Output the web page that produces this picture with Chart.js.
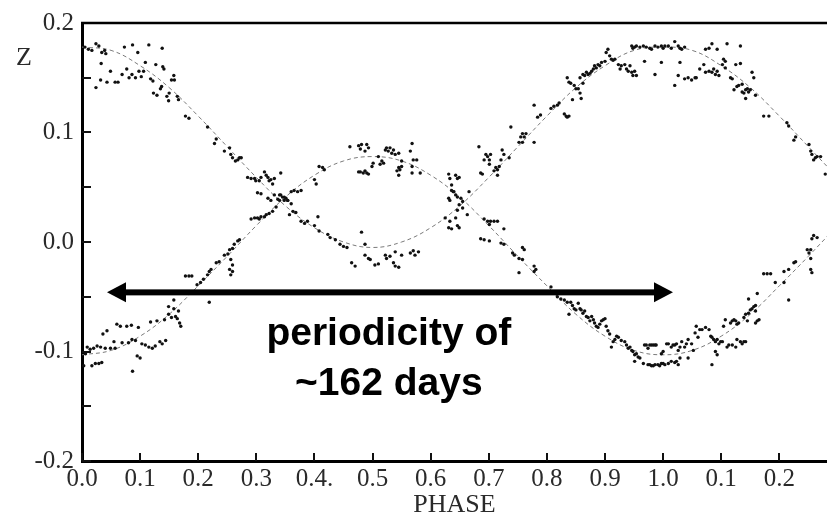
<!DOCTYPE html>
<html>
<head>
<meta charset="utf-8">
<script src="https://cdn.jsdelivr.net/npm/chart.js@4.4.1/dist/chart.umd.min.js"></script>
<style>
  html, body { margin: 0; padding: 0; background: #fff; }
  #wrap { width: 827px; height: 518px; }
</style>
</head>
<body>
<div id="wrap"><canvas id="phaseChart" width="827" height="518"></canvas></div>
<script>
// tick labels as printed on the figure (phase wraps after 1.0)
const xTickLabels = ['0.0', '0.1', '0.2', '0.3', '0.4.', '0.5', '0.6', '0.7', '0.8', '0.9', '1.0', '0.1', '0.2'];
const yTickLabels = ['-0.2', '', '-0.1', '', '0.0', '', '0.1', '', '0.2'];

// fitted curves, read every 0.05 in phase
const fitPhase = [0, 0.05, 0.10, 0.15, 0.20, 0.25, 0.30, 0.35, 0.40, 0.45, 0.50, 0.55, 0.60, 0.65, 0.70,
  0.75, 0.80, 0.85, 0.90, 0.95, 1.00, 1.05, 1.10, 1.15, 1.20, 1.25, 1.30];
const fitA = [0.178, 0.175, 0.161, 0.141, 0.115, 0.087, 0.059, 0.033, 0.013, 0.000, -0.005, 0.000, 0.013, 0.033, 0.059,
  0.087, 0.115, 0.141, 0.161, 0.175, 0.178, 0.175, 0.161, 0.141, 0.115, 0.087, 0.059];
const fitB = [-0.103, -0.099, -0.086, -0.066, -0.040, -0.013, 0.015, 0.041, 0.061, 0.074, 0.078, 0.074, 0.061, 0.041, 0.015,
  -0.013, -0.040, -0.066, -0.086, -0.099, -0.103, -0.099, -0.086, -0.066, -0.040, -0.013, 0.015];

// observed points [phase, Z], upper band
const dotsUpper = [
  [0.005,0.178],[0.011,0.176],[0.017,0.175],[0.024,0.181],[0.029,0.179],[0.034,0.173],[0.039,0.175],[0.041,0.172],
  [0.033,0.163],[0.024,0.141],[0.032,0.148],[0.043,0.146],[0.049,0.156],[0.057,0.146],[0.062,0.146],[0.069,0.153],
  [0.073,0.178],[0.077,0.158],[0.081,0.150],[0.086,0.153],[0.087,0.180],[0.092,0.150],[0.096,0.173],[0.098,0.156],
  [0.102,0.151],[0.106,0.156],[0.109,0.164],[0.115,0.180],[0.118,0.149],[0.122,0.147],[0.123,0.136],[0.127,0.162],
  [0.129,0.134],[0.135,0.140],[0.137,0.142],[0.138,0.177],[0.139,0.160],[0.141,0.158],[0.146,0.133],[0.149,0.129],
  [0.150,0.136],[0.154,0.148],[0.158,0.152],[0.159,0.148],[0.164,0.133],[0.166,0.130],[0.178,0.115],[0.184,0.113],
  [0.216,0.105],[0.231,0.094],[0.228,0.090],[0.245,0.083],[0.254,0.086],[0.256,0.080],[0.259,0.077],[0.264,0.074],
  [0.268,0.075],[0.271,0.077],[0.274,0.077],[0.285,0.059],[0.291,0.058],[0.297,0.058],[0.299,0.056],[0.305,0.056],
  [0.308,0.059],[0.314,0.064],[0.317,0.061],[0.320,0.059],[0.322,0.056],[0.325,0.057],[0.331,0.058],[0.328,0.053],
  [0.342,0.063],[0.302,0.045],[0.308,0.044],[0.320,0.040],[0.325,0.038],[0.331,0.043],[0.337,0.039],[0.340,0.043],
  [0.342,0.043],[0.345,0.041],[0.348,0.038],[0.351,0.040],[0.354,0.038],[0.360,0.035],[0.363,0.028],[0.357,0.025],
  [0.368,0.027],[0.377,0.019],[0.383,0.017],[0.388,0.019],[0.400,0.015],[0.408,0.010],[0.423,0.007],
  [0.461,0.087],[0.476,0.088],[0.479,0.085],[0.481,0.089],[0.490,0.089],[0.493,0.086],[0.487,0.083],[0.476,0.064],
  [0.479,0.064],[0.484,0.063],[0.487,0.065],[0.490,0.063],[0.493,0.062],[0.499,0.069],[0.501,0.072],[0.510,0.078],
  [0.513,0.071],[0.516,0.074],[0.519,0.072],[0.522,0.084],[0.524,0.086],[0.527,0.083],[0.530,0.086],[0.533,0.081],
  [0.536,0.084],[0.539,0.080],[0.545,0.081],[0.545,0.068],[0.547,0.066],[0.550,0.069],[0.542,0.065],[0.545,0.061],
  [0.550,0.074],[0.565,0.083],[0.568,0.090],[0.570,0.075],[0.576,0.075],[0.568,0.069],[0.568,0.063],[0.582,0.063],
  [0.631,0.062],[0.633,0.058],[0.636,0.052],[0.631,0.040],[0.633,0.038],[0.636,0.047],[0.639,0.046],
  [0.643,0.061],[0.646,0.058],[0.649,0.059],[0.640,0.046],[0.643,0.043],[0.646,0.041],[0.652,0.040],[0.655,0.037],
  [0.649,0.034],[0.646,0.029],[0.655,0.031],[0.663,0.025],[0.643,0.022],[0.646,0.015],[0.649,0.013],[0.666,0.046],
  [0.686,0.063],[0.689,0.062],[0.683,0.087],[0.692,0.075],[0.695,0.080],[0.698,0.078],[0.701,0.075],[0.703,0.080],
  [0.701,0.071],[0.709,0.065],[0.712,0.068],[0.715,0.066],[0.715,0.061],[0.718,0.069],[0.721,0.075],[0.723,0.084],
  [0.726,0.080],[0.735,0.077],[0.738,0.105],[0.752,0.091],[0.755,0.096],[0.758,0.099],[0.758,0.091],[0.761,0.096],
  [0.764,0.099],[0.778,0.091],[0.778,0.125],[0.784,0.114],[0.789,0.116],[0.807,0.122],[0.812,0.124],[0.818,0.125],
  [0.821,0.127],[0.830,0.117],[0.833,0.115],[0.835,0.114],[0.838,0.115],[0.844,0.130],[0.835,0.150],[0.838,0.146],
  [0.841,0.145],[0.847,0.143],[0.850,0.140],
  [0.857,0.150],[0.862,0.153],[0.865,0.152],[0.868,0.155],[0.871,0.153],[0.874,0.154],[0.877,0.156],[0.880,0.158],
  [0.882,0.161],[0.885,0.159],[0.888,0.162],[0.891,0.161],[0.894,0.164],[0.900,0.165],[0.902,0.173],[0.905,0.176],
  [0.908,0.170],[0.911,0.167],[0.914,0.166],[0.917,0.167],[0.923,0.162],[0.926,0.158],[0.928,0.161],[0.934,0.162],
  [0.937,0.158],[0.940,0.156],[0.943,0.161],[0.946,0.155],[0.948,0.152],[0.951,0.156],[0.954,0.152],[0.946,0.179],
  [0.948,0.177],[0.951,0.178],[0.954,0.179],[0.960,0.178],[0.966,0.179],[0.971,0.178],[0.977,0.177],[0.980,0.176],
  [0.986,0.179],[0.991,0.178],[0.997,0.179],[1.000,0.177],[1.003,0.179],[1.009,0.179],[1.014,0.177],[1.020,0.183],
  [1.026,0.179],[1.029,0.177],[1.032,0.176],[1.037,0.178],[0.968,0.165],[0.986,0.153],[0.997,0.164],[1.020,0.143],
  [1.026,0.152],[1.029,0.164],[1.037,0.149],[1.043,0.150],[1.049,0.148],[1.055,0.150],[1.057,0.150],[1.063,0.158],
  [0.857,0.136],[0.859,0.131],[0.854,0.140],[0.862,0.145],
  [1.073,0.176],[1.079,0.177],[1.084,0.181],[1.093,0.176],[1.110,0.181],[1.133,0.179],[1.070,0.162],[1.073,0.155],
  [1.079,0.156],[1.084,0.155],[1.087,0.158],[1.090,0.153],[1.093,0.156],[1.096,0.152],[1.102,0.162],[1.104,0.167],
  [1.107,0.165],[1.107,0.159],[1.116,0.150],[1.119,0.149],[1.125,0.162],[1.127,0.142],[1.130,0.143],[1.133,0.163],
  [1.136,0.144],[1.139,0.136],[1.142,0.131],[1.142,0.139],[1.145,0.140],[1.147,0.137],[1.150,0.139],[1.153,0.155],
  [1.156,0.150],[1.159,0.134],[1.173,0.115],[1.182,0.115],[1.213,0.109],[1.216,0.106],[1.228,0.096],[1.225,0.093],
  [1.251,0.089],[1.254,0.083],[1.256,0.080],[1.259,0.075],[1.262,0.077],[1.265,0.078],[1.271,0.078],[1.279,0.062],
  [1.136,0.137],[1.122,0.139]
];

// observed points [phase, Z], lower band
const dotsLower = [
  [0.003,-0.113],[0.006,-0.102],[0.009,-0.096],[0.014,-0.098],[0.017,-0.113],[0.020,-0.097],[0.023,-0.111],[0.026,-0.095],
  [0.029,-0.111],[0.032,-0.096],[0.034,-0.110],[0.036,-0.084],[0.040,-0.097],[0.043,-0.081],[0.049,-0.097],[0.055,-0.091],
  [0.057,-0.097],[0.060,-0.075],[0.066,-0.077],[0.069,-0.092],[0.077,-0.077],[0.080,-0.092],[0.085,-0.076],[0.086,-0.089],
  [0.092,-0.090],[0.095,-0.104],[0.097,-0.078],[0.100,-0.106],[0.103,-0.093],[0.109,-0.094],[0.115,-0.096],[0.118,-0.073],
  [0.121,-0.097],[0.126,-0.095],[0.129,-0.072],[0.134,-0.091],[0.138,-0.093],[0.142,-0.071],[0.144,-0.090],[0.154,-0.069],
  [0.149,-0.059],[0.158,-0.053],[0.161,-0.068],[0.164,-0.070],[0.166,-0.063],[0.168,-0.074],[0.170,-0.077],[0.158,-0.061],
  [0.149,-0.066],[0.178,-0.031],[0.184,-0.031],[0.189,-0.031],[0.198,-0.039],[0.204,-0.037],[0.209,-0.034],[0.087,-0.118],
  [0.219,-0.055],
  [0.216,-0.030],[0.219,-0.027],[0.222,-0.025],[0.231,-0.019],[0.236,-0.018],[0.245,-0.012],[0.251,-0.011],[0.254,-0.007],
  [0.259,-0.006],[0.262,-0.002],[0.268,0.001],[0.271,0.002],[0.256,-0.016],[0.259,-0.021],[0.259,-0.027],[0.256,-0.030],
  [0.254,-0.025],[0.291,0.021],[0.297,0.022],[0.302,0.022],[0.305,0.021],[0.308,0.023],[0.314,0.023],[0.317,0.025],
  [0.322,0.026],[0.328,0.028],[0.334,0.032],[0.340,0.038],[0.348,0.041],[0.354,0.038],[0.360,0.046],[0.365,0.047],
  [0.371,0.046],[0.377,0.047],[0.400,0.057],[0.403,0.053],[0.408,0.069],[0.414,0.068],[0.417,0.066],[0.406,0.023],
  [0.427,0.004],[0.436,0.002],[0.444,-0.002],[0.450,-0.004],[0.456,-0.005],[0.481,0.009],[0.487,-0.002],[0.464,-0.019],
  [0.470,-0.022],[0.487,-0.012],[0.493,-0.015],[0.496,-0.016],[0.504,-0.021],[0.510,-0.020],[0.522,-0.012],[0.524,-0.015],
  [0.530,-0.013],[0.536,-0.019],[0.539,-0.022],[0.545,-0.023],[0.539,-0.009],[0.550,-0.012],[0.565,-0.010],[0.570,-0.008],
  [0.573,-0.012],[0.579,-0.009],[0.625,0.022],[0.631,0.013],[0.636,0.012],[0.633,0.019],
  [0.692,0.021],[0.698,0.019],[0.703,0.019],[0.709,0.019],[0.715,0.019],[0.726,0.012],[0.701,0.016],[0.686,0.003],
  [0.692,0.002],[0.701,0.001],[0.721,-0.001],[0.726,-0.002],[0.741,-0.010],[0.744,-0.012],[0.752,-0.015],[0.758,-0.016],
  [0.758,-0.005],[0.761,-0.007],[0.752,-0.028],[0.778,-0.022],[0.781,-0.025],[0.778,-0.027],[0.807,-0.041],[0.815,-0.047],
  [0.818,-0.050],[0.824,-0.052],[0.830,-0.053],[0.835,-0.055],[0.841,-0.055],[0.844,-0.058],[0.838,-0.066],[0.847,-0.061],
  [0.850,-0.062],
  [0.854,-0.056],[0.857,-0.061],[0.859,-0.062],[0.862,-0.065],[0.865,-0.063],[0.868,-0.068],[0.871,-0.069],[0.874,-0.072],
  [0.877,-0.068],[0.880,-0.071],[0.882,-0.074],[0.885,-0.077],[0.888,-0.078],[0.891,-0.075],[0.894,-0.072],[0.897,-0.071],
  [0.900,-0.070],[0.902,-0.077],[0.905,-0.081],[0.908,-0.084],[0.911,-0.096],[0.914,-0.091],[0.917,-0.089],[0.920,-0.086],
  [0.923,-0.087],[0.928,-0.090],[0.934,-0.091],[0.937,-0.094],[0.940,-0.097],[0.943,-0.096],[0.946,-0.099],[0.948,-0.100],
  [0.951,-0.103],[0.954,-0.102],[0.957,-0.105],[0.960,-0.106],[0.966,-0.111],[0.968,-0.094],[0.971,-0.094],[0.974,-0.097],
  [0.977,-0.094],[0.980,-0.094],[0.983,-0.094],[0.986,-0.094],[0.988,-0.094],[0.997,-0.102],[1.000,-0.100],[1.006,-0.093],
  [1.009,-0.093],[1.014,-0.096],[1.017,-0.094],[1.020,-0.094],[1.023,-0.093],[1.026,-0.099],[1.029,-0.096],[1.032,-0.091],
  [1.037,-0.096],[1.040,-0.093],[1.043,-0.089],[1.049,-0.093],[1.052,-0.099],[1.055,-0.083],[1.057,-0.077],[1.063,-0.080],
  [0.974,-0.112],[0.977,-0.112],[0.980,-0.113],[0.983,-0.113],[0.986,-0.112],[0.991,-0.112],[0.994,-0.113],[0.997,-0.111],
  [1.000,-0.111],[1.003,-0.112],[1.009,-0.111],[1.014,-0.109],[1.020,-0.110],[1.023,-0.109],[1.026,-0.112],[1.029,-0.106],
  [1.043,-0.106],[1.060,-0.087],[0.951,-0.109],
  [1.067,-0.080],[1.073,-0.078],[1.079,-0.080],[1.084,-0.087],[1.082,-0.086],[1.087,-0.089],[1.090,-0.091],[1.093,-0.089],
  [1.096,-0.093],[1.099,-0.091],[1.102,-0.091],[1.104,-0.077],[1.107,-0.071],[1.110,-0.096],[1.113,-0.094],[1.116,-0.074],
  [1.119,-0.072],[1.122,-0.071],[1.125,-0.072],[1.127,-0.075],[1.130,-0.074],[1.133,-0.091],[1.136,-0.093],[1.139,-0.091],
  [1.142,-0.091],[1.127,-0.089],[1.139,-0.069],[1.142,-0.066],[1.147,-0.065],[1.150,-0.062],[1.153,-0.061],[1.156,-0.059],
  [1.159,-0.058],[1.159,-0.063],[1.162,-0.072],[1.165,-0.071],[1.162,-0.047],[1.147,-0.052],[1.145,-0.072],[1.159,-0.074],
  [1.173,-0.029],[1.179,-0.029],[1.185,-0.029],[1.193,-0.037],[1.208,-0.037],[1.208,-0.027],[1.216,-0.025],[1.216,-0.053],
  [1.225,-0.019],[1.228,-0.018],[1.251,-0.010],[1.254,-0.007],[1.256,0.003],[1.259,0.006],[1.265,0.004],[1.254,-0.015],
  [1.254,-0.025],[1.256,-0.028],[1.248,-0.007],[1.090,-0.100],[1.093,-0.103],[1.084,-0.112],[1.125,-0.096],[1.119,-0.094]
];

// the period arrow spans one cycle
const arrowPhase = [0.043, 1.017];
const arrowZ = -0.046;
const noteLines = ['periodicity of', '~162 days'];

const serif = "'Liberation Serif', 'Times New Roman', serif";

// ticks point into the plot, plus the frame line along the top
const frameTicks = {
  id: 'frameTicks',
  afterDraw(chart) {
    const { ctx, chartArea: a, scales: { x, y } } = chart;
    ctx.save();
    ctx.strokeStyle = '#111';
    ctx.lineWidth = 2;
    ctx.beginPath();
    x.ticks.forEach(t => {
      const px = Math.round(x.getPixelForValue(t.value));
      ctx.moveTo(px, a.bottom);
      ctx.lineTo(px, a.bottom - 8);
    });
    y.ticks.forEach(t => {
      const py = Math.round(y.getPixelForValue(t.value));
      ctx.moveTo(a.left, py);
      ctx.lineTo(a.left + 9, py);
    });
    ctx.stroke();
    ctx.lineWidth = 2.5;
    ctx.strokeStyle = '#000';
    ctx.beginPath();
    ctx.moveTo(a.left - 1, a.top);
    ctx.lineTo(a.right, a.top);
    ctx.stroke();
    // axis name at the top left
    ctx.fillStyle = '#2a2a2a';
    ctx.font = '26px ' + serif;
    ctx.textAlign = 'center';
    ctx.textBaseline = 'middle';
    ctx.fillText('Z', 24, 58);
    ctx.restore();
  }
};

const periodNote = {
  id: 'periodNote',
  afterDatasetsDraw(chart) {
    const { ctx, scales: { x, y } } = chart;
    const x0 = x.getPixelForValue(arrowPhase[0]);
    const x1 = x.getPixelForValue(arrowPhase[1]);
    const py = y.getPixelForValue(arrowZ);
    const head = 19, half = 10;
    ctx.save();
    ctx.fillStyle = '#000';
    ctx.fillRect(x0 + head - 1, py - 3, (x1 - x0) - 2 * head + 2, 6);
    ctx.beginPath();
    ctx.moveTo(x0, py); ctx.lineTo(x0 + head, py - half); ctx.lineTo(x0 + head, py + half);
    ctx.closePath(); ctx.fill();
    ctx.beginPath();
    ctx.moveTo(x1, py); ctx.lineTo(x1 - head, py - half); ctx.lineTo(x1 - head, py + half);
    ctx.closePath(); ctx.fill();

    ctx.font = "bold 39px 'Liberation Sans', Arial, Helvetica, sans-serif";
    ctx.textAlign = 'center';
    ctx.textBaseline = 'alphabetic';
    const cx = x.getPixelForValue(0.528);
    ctx.fillText(noteLines[0], cx, py + 53);
    ctx.fillText(noteLines[1], cx, py + 103);
    ctx.restore();
  }
};

const toXY = (xs, ys) => xs.map((v, i) => ({ x: v, y: ys[i] }));
const toPts = pairs => pairs.map(p => ({ x: p[0], y: p[1] }));

const config = {
  type: 'scatter',
  data: {
    datasets: [
      {
        label: 'observed upper',
        data: toPts(dotsUpper),
        pointRadius: 1.7,
        pointBackgroundColor: '#111',
        pointBorderWidth: 0,
        order: 1
      },
      {
        label: 'observed lower',
        data: toPts(dotsLower),
        pointRadius: 1.7,
        pointBackgroundColor: '#111',
        pointBorderWidth: 0,
        order: 1
      },
      {
        label: 'fit A',
        data: toXY(fitPhase, fitA),
        showLine: true,
        borderColor: '#7a7a7a',
        borderWidth: 1,
        borderDash: [4, 3],
        pointRadius: 0,
        tension: 0.4,
        order: 2
      },
      {
        label: 'fit B',
        data: toXY(fitPhase, fitB),
        showLine: true,
        borderColor: '#7a7a7a',
        borderWidth: 1,
        borderDash: [4, 3],
        pointRadius: 0,
        tension: 0.4,
        order: 2
      }
    ]
  },
  options: {
    responsive: false,
    devicePixelRatio: 1,
    animation: false,
    layout: { autoPadding: false, padding: { top: 9, right: 0, bottom: 0, left: 0 } },
    plugins: { legend: { display: false }, tooltip: { enabled: false } },
    scales: {
      x: {
        type: 'linear',
        min: 0,
        max: 1.282,
        afterFit(scale) { scale.height = 57; },
        grid: { display: true, drawOnChartArea: false, drawTicks: false },
        border: { display: true, color: '#000', width: 3 },
        ticks: {
          stepSize: 0.1,
          includeBounds: false,
          autoSkip: false,
          maxRotation: 0,
          padding: 3,
          color: '#2a2a2a',
          font: { family: serif, size: 25 },
          callback: (v, i) => xTickLabels[i]
        },
        title: {
          display: true,
          text: 'PHASE',
          color: '#2a2a2a',
          font: { family: serif, size: 26, lineHeight: 1 },
          padding: 0
        }
      },
      y: {
        min: -0.2,
        max: 0.2,
        afterFit(scale) { scale.width = 82; },
        grid: { display: true, drawOnChartArea: false, drawTicks: false },
        border: { display: true, color: '#000', width: 3 },
        ticks: {
          stepSize: 0.05,
          includeBounds: false,
          autoSkip: false,
          padding: 8,
          color: '#2a2a2a',
          font: { family: serif, size: 25 },
          callback: (v, i) => yTickLabels[i]
        }
      }
    }
  },
  plugins: [frameTicks, periodNote]
};

const phaseChart = new Chart(document.getElementById('phaseChart'), config);
</script>
</body>
</html>
